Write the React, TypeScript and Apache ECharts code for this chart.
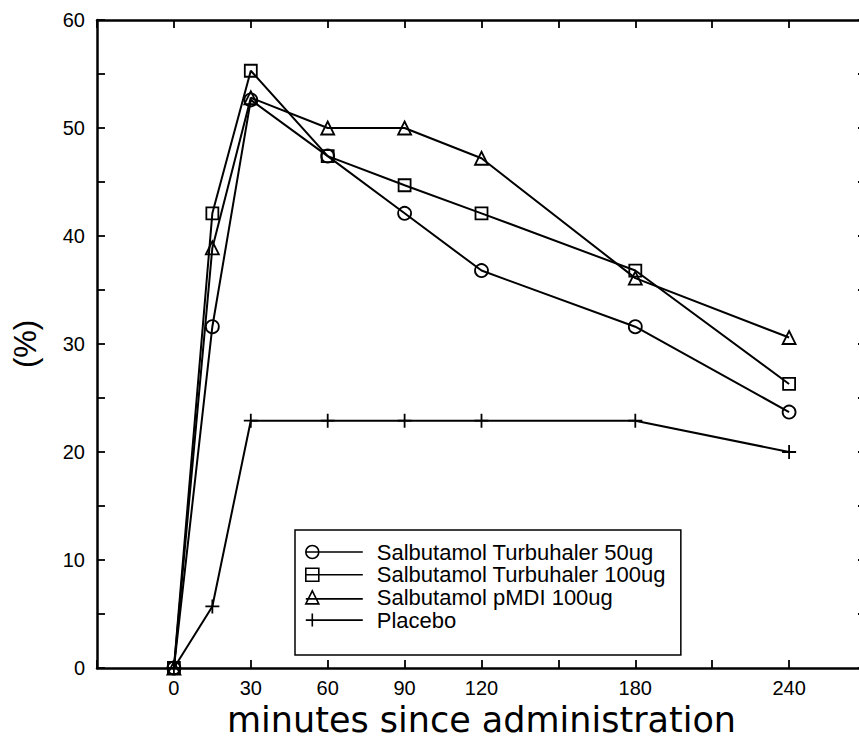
import React, { useEffect, useRef } from "react";
import * as echarts from "echarts";

const times = [0, 15, 30, 60, 90, 120, 180, 240];
const turbu50 = [0, 31.6, 52.6, 47.4, 42.1, 36.8, 31.6, 23.7];
const turbu100 = [0, 42.1, 55.3, 47.4, 44.7, 42.1, 36.8, 26.3];
const pmdi = [0, 38.9, 52.8, 50.0, 50.0, 47.2, 36.1, 30.6];
const placebo = [0, 5.7, 22.9, 22.9, 22.9, 22.9, 22.9, 20.0];
const xTickLabels = [0, 30, 60, 90, 120, 180, 240];
const seriesNames = [
  "Salbutamol Turbuhaler 50ug",
  "Salbutamol Turbuhaler 100ug",
  "Salbutamol pMDI 100ug",
  "Placebo",
];

const FONT = "Liberation Sans";

const plusPath = "path://M0,6 L12,6 M6,0 L6,12";
const legendIcons = [
  "path://M0,6.5 A6.5,6.5 0 1,1 13,6.5 A6.5,6.5 0 1,1 0,6.5 Z M0,6.5 L57,6.5",
  "path://M0,0 L13,0 L13,13 L0,13 Z M0,6.5 L57,6.5",
  "path://M6.5,0 L13,13 L0,13 Z M0,8 L57,8",
  "path://M0,6.5 L57,6.5 M6.5,0 L6.5,13",
];

export default function App() {
  const ref = useRef<HTMLDivElement>(null);
  useEffect(() => {
    if (!ref.current) return;
    const chart = echarts.init(ref.current, null, { renderer: "svg" });
    const mk = (name: string, vals: number[], symbol: string, size: number) => ({
      name,
      type: "line",
      data: times.map((t, i) => [t, vals[i]]),
      symbol,
      symbolSize: size,
      showAllSymbol: true,
      lineStyle: { color: "#000", width: 2 },
      itemStyle: { color: "transparent", borderColor: "#000", borderWidth: 1.8 },
      emphasis: { disabled: true },
    });
    const axisLine = { show: true, onZero: false, lineStyle: { color: "#000", width: 2.5 } };
    const tick = { show: true, inside: true, length: 8, lineStyle: { color: "#000", width: 1.8 } };
    chart.setOption({
      animation: false,
      backgroundColor: "#fff",
      grid: { left: 97, right: -7, top: 20, bottom: 80, outerBoundsMode: "none", containLabel: false },
      legend: {
        orient: "vertical",
        left: 295,
        top: 530,
        padding: [11, 15, 24, 10],
        borderColor: "#000",
        borderWidth: 1.5,
        borderRadius: 0,
        itemWidth: 57,
        itemHeight: 13,
        itemGap: 0.7,
        selectedMode: false,
        data: seriesNames.map((n, i) => ({ name: n, icon: legendIcons[i] })),
        itemStyle: { color: "transparent", borderColor: "#000", borderWidth: 1.6 },
        textStyle: { fontFamily: FONT, fontSize: 22, color: "#000", lineHeight: 22, padding: [0, 0, 0, 9] },
      },
      xAxis: [
        {
          type: "value",
          min: -30,
          max: 270,
          interval: 30,
          position: "bottom",
          axisLine,
          axisTick: tick,
          splitLine: { show: false },
          axisLabel: {
            margin: 10,
            fontFamily: FONT,
            fontSize: 20,
            lineHeight: 20,
            color: "#000",
            formatter: (v: number) => (xTickLabels.indexOf(v) >= 0 ? String(v) : ""),
          },
          name: "minutes since administration",
          nameLocation: "middle",
          nameGap: 40,
          nameMoveOverlap: false,
          nameTextStyle: { fontFamily: "DejaVu Sans", fontSize: 35, lineHeight: 24, color: "#000" },
        },
        {
          type: "value",
          min: -30,
          max: 270,
          interval: 30,
          position: "top",
          axisLine,
          axisTick: tick,
          splitLine: { show: false },
          axisLabel: { show: false },
        },
      ],
      yAxis: [
        {
          type: "value",
          min: 0,
          max: 60,
          interval: 5,
          position: "left",
          axisLine,
          axisTick: tick,
          splitLine: { show: false },
          axisLabel: {
            margin: 12,
            fontFamily: FONT,
            fontSize: 20,
            color: "#000",
            formatter: (v: number) => (v % 10 === 0 ? String(v) : ""),
          },
          name: "(%)",
          nameLocation: "middle",
          nameRotate: 90,
          nameGap: 56,
          nameMoveOverlap: false,
          nameTextStyle: { fontFamily: FONT, fontSize: 31, color: "#000" },
        },
        {
          type: "value",
          min: 0,
          max: 60,
          interval: 5,
          position: "right",
          axisLine,
          axisTick: tick,
          splitLine: { show: false },
          axisLabel: { show: false },
        },
      ],
      series: [
        mk(seriesNames[0], turbu50, "circle", 13),
        mk(seriesNames[1], turbu100, "rect", 12),
        mk(seriesNames[2], pmdi, "triangle", 13),
        mk(seriesNames[3], placebo, plusPath, 14),
      ],
    });
    return () => chart.dispose();
  }, []);
  return (
    <div
      ref={ref}
      style={{ position: "fixed", left: 0, top: 0, width: 859, height: 748, background: "#fff" }}
    />
  );
}
